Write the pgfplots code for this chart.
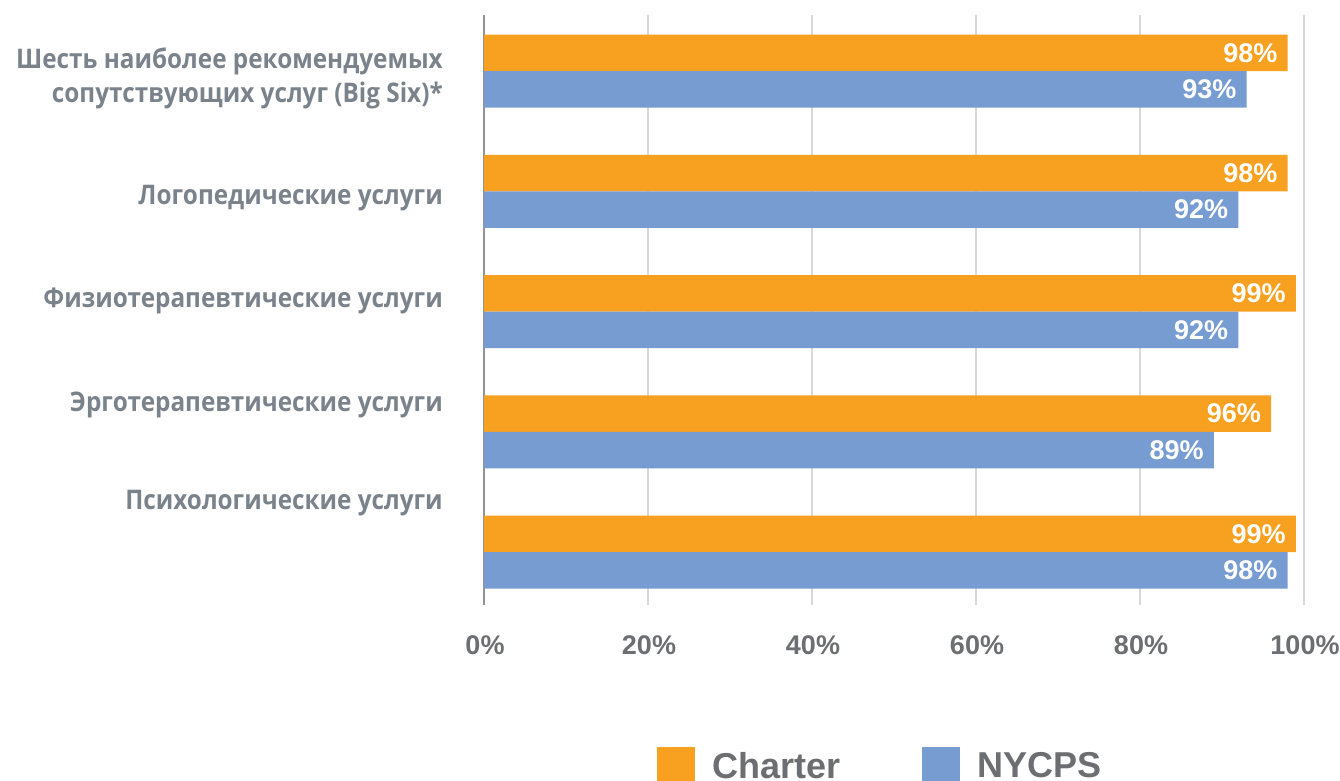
\documentclass[border=0pt]{standalone}
\usepackage{fontspec}
\usepackage{pgfplots}
\pgfplotsset{compat=1.18}
\setmainfont{Liberation Sans}
\newfontfamily\labfont{Open Sans}[FakeStretch=0.9]
\definecolor{corange}{HTML}{F8A121}
\definecolor{cblue}{HTML}{779CD1}
\definecolor{labgrey}{HTML}{7A838C}
\definecolor{tickgrey}{HTML}{6D6E71}
\definecolor{gridgrey}{HTML}{D9D9D9}
\begin{document}
\begin{tikzpicture}
\path[use as bounding box] (0,0) rectangle (1340pt,780pt);
\begin{axis}[
  at={(484pt,175pt)}, anchor=south west,
  scale only axis, width=820pt, height=590pt,
  xmin=0, xmax=100, ymin=-0.44, ymax=4.466,
  xbar, bar width=36.5pt,
  axis x line=bottom, axis y line=left,
  x axis line style={draw=none},
  y axis line style={-, draw=gray!85, line width=1.2pt},
  xtick={0,20,40,60,80,100}, ytick=\empty,
  major tick length=0pt,
  xmajorgrids, grid style={gridgrey, line width=1.6pt},
  /pgf/number format/assume math mode=true,
  xticklabel={\pgfmathprintnumber{\tick}\%},
  xticklabel style={font=\fontsize{27}{30}\selectfont\bfseries, text=tickgrey, anchor=north, inner sep=0pt, yshift=-30pt, xshift=1pt},
  point meta=x,
  nodes near coords={\pgfmathprintnumber{\pgfplotspointmeta}\%},
  nodes near coords style={anchor=east, text=white, font=\fontsize{27}{30}\selectfont\bfseries, inner sep=0pt, xshift=-10pt},
  clip=false,
  legend columns=2,
  legend image code/.code={\fill[#1] (0pt,-19pt) rectangle (38pt,19pt);},
  legend style={draw=none, fill=none, inner sep=0pt, at={(axis cs:21.1,-1.778)}, anchor=west,
    column sep=15pt, /tikz/every even column/.append style={column sep=80pt},
    font=\fontsize{36}{40}\selectfont\bfseries, text=tickgrey},
]
\addplot[fill=corange, draw=none, bar shift=18.25pt] coordinates {(98,4) (98,3) (99,2) (96,1) (99,0)};
\addplot[fill=cblue, draw=none, bar shift=-18.25pt] coordinates {(93,4) (92,3) (92,2) (89,1) (98,0)};
\legend{Charter, NYCPS}
\begin{scope}[every node/.style={anchor=east, xshift=-41pt, text=labgrey, font=\labfont\bfseries\fontsize{27}{34}\selectfont, inner sep=0pt, align=right}]
\node at (axis cs:0,3.94) {Шесть наиболее рекомендуемых\\сопутствующих услуг (Big Six)*};
\node at (axis cs:0,2.945) {Логопедические услуги};
\node at (axis cs:0,2.085) {Физиотерапевтические услуги};
\node at (axis cs:0,1.225) {Эрготерапевтические услуги};
\node at (axis cs:0,0.405) {Психологические услуги};
\end{scope}
\end{axis}
\end{tikzpicture}
\end{document}
